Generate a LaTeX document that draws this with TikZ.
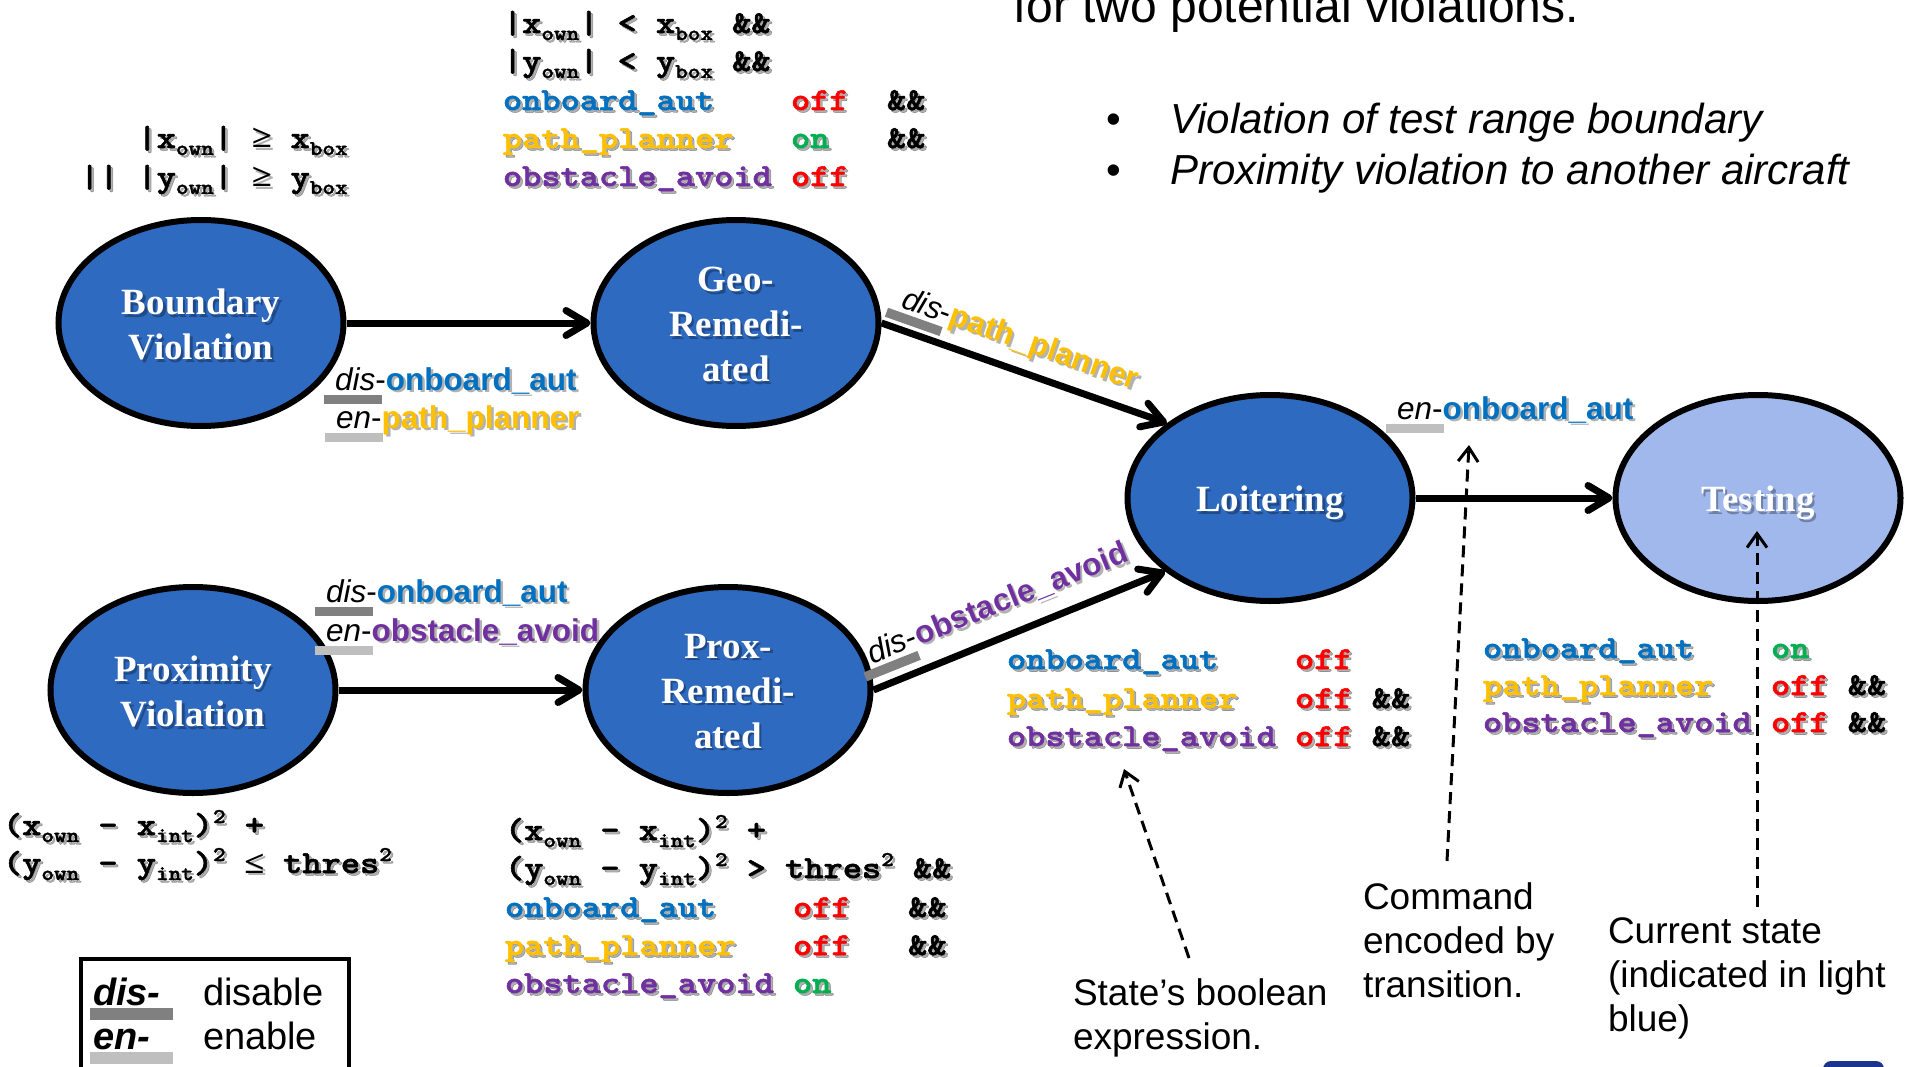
\documentclass[tikz,border=0pt]{standalone}
\usepackage{fontspec}
\setmainfont{Liberation Serif}
\newfontfamily\arial{Liberation Sans}
\newfontfamily\cour{lmmonolt10-bold.otf}[FakeBold=1.6]
\usetikzlibrary{shapes.geometric,arrows.meta}

\definecolor{stateblue}{RGB}{46,106,192}
\definecolor{lightstate}{RGB}{160,184,236}
\definecolor{cblue}{RGB}{0,112,192}
\definecolor{cyel}{RGB}{255,192,0}
\definecolor{cpurp}{RGB}{112,48,160}
\definecolor{cred}{RGB}{255,0,0}
\definecolor{cgreen}{RGB}{0,176,80}
\definecolor{bardark}{RGB}{128,128,128}
\definecolor{barlight}{RGB}{191,191,191}
\definecolor{navy}{RGB}{28,52,140}

% fonts (1pt = 1 pixel of the drawing)
\newcommand\statefont{\rmfamily\bfseries\fontsize{37}{45}\selectfont}
\newcommand\edgefont{\arial\fontsize{31.5}{38}\selectfont}
\newcommand\codefont{\cour\fontsize{32}{38}\selectfont\frenchspacing}
\newcommand\notefont{\arial\fontsize{37}{44}\selectfont}
\newcommand\legendfont{\arial\fontsize{38}{40}\selectfont}

% drop-shadow pass: colours and bars are suppressed
\newif\ifsh
\newcommand\tc[2]{{\ifsh\else\color{#1}\fi#2}}
\newcommand\ebar[2]{\ifsh\phantom{#2}\else\makebox[0pt][l]{\hspace*{-0.35em}\textcolor{#1}{\rule[-0.45em]{1.84em}{0.3em}}}#2\fi}
\newcommand\lbar[2]{\makebox[0pt][l]{\hspace*{-0.08em}\textcolor{#1}{\rule[-0.4em]{2.18em}{0.31em}}}#2}
\newcommand\lowidx[1]{\raisebox{-7pt}{\fontsize{21}{21}\selectfont#1}}
\newcommand\hiidx[1]{\raisebox{12pt}{\fontsize{21}{21}\selectfont#1}}
\newcommand\gap[1]{\hspace*{#1\dimexpr0.525em\relax}}
\newcommand\rel[1]{\makebox[0.525em]{\rmfamily\bfseries#1}}

% text node drawn twice: a soft shadow, then the text itself
\newcommand\shnode[4][]{%
  \node[#1,shadow pass] at ([shift={(2.5,2.5)}]#3) {#4};
  \node[#1] (#2) at (#3) {#4};}

\tikzset{
  state/.style={ellipse, draw=black, line width=6pt, fill=stateblue,
    minimum width=285pt, minimum height=206pt, inner sep=0pt},
  current/.style={state, fill=lightstate},
  statelabel/.style={text=white, align=center, font=\statefont, inner sep=0pt, yshift=-1.5pt},
  code/.style={anchor=base west, inner sep=0pt, outer sep=0pt, font=\codefont, xscale=1.143},
  elabel/.style={anchor=base west, inner sep=0pt, outer sep=0pt, font=\edgefont},
  note/.style={anchor=base west, inner sep=0pt, outer sep=0pt, font=\notefont},
  legendtext/.style={anchor=base west, inner sep=0pt, outer sep=0pt, font=\legendfont},
  shadow pass/.style={text=black, text opacity=0.3, execute at begin node=\shtrue},
  trans/.style={line width=7pt, -{Straight Barb[length=21pt,width=25pt,round]}},
  pointer/.style={line width=3pt, dash pattern=on 12pt off 7pt,
    -{Straight Barb[length=14pt,width=20pt]}},
}

\begin{document}
\begin{tikzpicture}[x=1pt,y=-1pt]
\fill[white] (0,0) rectangle (1905,1067);
\useasboundingbox (0,0) rectangle (1905,1067);

% heading text
\node[anchor=base west, inner sep=0pt, font=\arial\fontsize{48}{56}\selectfont] (title) at (1013,23) {for two potential violations.};
\node[anchor=base west, inner sep=0pt, font=\arial\fontsize{42}{50}\selectfont] (bul1) at (1106,134) {•};
\node[anchor=base west, inner sep=0pt, font=\arial\fontsize{42}{50}\selectfont] (bul2) at (1106,185) {•};
\node[anchor=base west, inner sep=0pt, font=\arial\itshape\fontsize{42}{50}\selectfont] (item1) at (1170,134) {Violation of test range boundary};
\node[anchor=base west, inner sep=0pt, font=\arial\itshape\fontsize{42}{50}\selectfont] (item2) at (1170,185) {Proximity violation to another aircraft};

% states
\node[state] (bv) at (201,323) {};
\node[state] (geo) at (736,323) {};
\node[state] (loit) at (1270,498) {};
\node[current] (test) at (1758,498) {};
\node[state] (pv) at (193,690) {};
\node[state] (pr) at (728,690) {};

\shnode[statelabel]{bvl}{bv}{Boundary\\Violation}
\shnode[statelabel]{geol}{geo}{Geo-\\Remedi-\\ated}
\shnode[statelabel,yshift=-3.5pt]{loitl}{loit}{Loitering}
\shnode[statelabel,yshift=-3.5pt]{testl}{test}{Testing}
\shnode[statelabel]{pvl}{pv}{Proximity\\Violation}
\shnode[statelabel]{prl}{pr}{Prox-\\Remedi-\\ated}

% transitions
\draw[trans] (bv.east) -- (geo.west);
\draw[trans] (geo.east) -- (loit.144);
\draw[trans] (pv.east) -- (pr.west);
\draw[trans] (pr.east) -- (loit.215);
\draw[trans] (loit.east) -- (test.west);

% commands carried by the transitions
\shnode[elabel]{e1a}{335,390}{\ebar{bardark}{\textit{dis}-}\tc{cblue}{\bfseries onboard\_aut}}
\shnode[elabel]{e1b}{336,428}{\ebar{barlight}{\textit{en}-}\tc{cyel}{\bfseries path\_planner}}
\shnode[elabel]{e2a}{326,602}{\ebar{bardark}{\textit{dis}-}\tc{cblue}{\bfseries onboard\_aut}}
\shnode[elabel]{e2b}{326,641}{\ebar{barlight}{\textit{en}-}\tc{cpurp}{\bfseries obstacle\_avoid}}
\shnode[elabel]{e5}{1397,419}{\ebar{barlight}{\textit{en}-}\tc{cblue}{\bfseries onboard\_aut}}
\shnode[elabel,rotate=-19.5]{e3}{900,307}{\ebar{bardark}{\textit{dis}-}\tc{cyel}{\bfseries path\_planner}}
\shnode[elabel,rotate=21.8]{e4}{872,664}{\ebar{bardark}{\textit{dis}-}\tc{cpurp}{\bfseries obstacle\_avoid}}

% boolean expressions of the states
\shnode[code]{b1}{80,148}{\gap{3}|x\lowidx{own}| \rel{≥} x\lowidx{box}}
\shnode[code]{b2}{80,187}{||\gap{1}|y\lowidx{own}| \rel{≥} y\lowidx{box}}

\shnode[code]{g1}{503,33}{|x\lowidx{own}| < x\lowidx{box} \&\&}
\shnode[code]{g2}{503,71}{|y\lowidx{own}| < y\lowidx{box} \&\&}
\shnode[code]{g3}{503,110}{\tc{cblue}{onboard\_aut}\gap{4}\tc{cred}{off}\gap{2}\&\&}
\shnode[code]{g4}{503,148}{\tc{cyel}{path\_planner}\gap{3}\tc{cgreen}{on}\gap{3}\&\&}
\shnode[code]{g5}{503,186}{\tc{cpurp}{obstacle\_avoid}\gap{1}\tc{cred}{off}}

\shnode[code]{p1}{3,835}{(x\lowidx{own} - x\lowidx{int})\hiidx{2} +}
\shnode[code]{p2}{3,873}{(y\lowidx{own} - y\lowidx{int})\hiidx{2} \rel{≤} thres\hiidx{2}}

\shnode[code]{r1}{505,840}{(x\lowidx{own} - x\lowidx{int})\hiidx{2} +}
\shnode[code]{r2}{505,878}{(y\lowidx{own} - y\lowidx{int})\hiidx{2} > thres\hiidx{2} \&\&}
\shnode[code]{r3}{505,917}{\tc{cblue}{onboard\_aut}\gap{4}\tc{cred}{off}\gap{3}\&\&}
\shnode[code]{r4}{505,955}{\tc{cyel}{path\_planner}\gap{3}\tc{cred}{off}\gap{3}\&\&}
\shnode[code]{r5}{505,993}{\tc{cpurp}{obstacle\_avoid}\gap{1}\tc{cgreen}{on}}

\shnode[code]{t1}{1007,669}{\tc{cblue}{onboard\_aut}\gap{4}\tc{cred}{off}}
\shnode[code]{t2}{1007,708}{\tc{cyel}{path\_planner}\gap{3}\tc{cred}{off}\gap{1}\&\&}
\shnode[code]{t3}{1007,746}{\tc{cpurp}{obstacle\_avoid}\gap{1}\tc{cred}{off}\gap{1}\&\&}

\shnode[code]{s1}{1483,658}{\tc{cblue}{onboard\_aut}\gap{4}\tc{cgreen}{on}}
\shnode[code]{s2}{1483,695}{\tc{cyel}{path\_planner}\gap{3}\tc{cred}{off}\gap{1}\&\&}
\shnode[code]{s3}{1483,732}{\tc{cpurp}{obstacle\_avoid}\gap{1}\tc{cred}{off}\gap{1}\&\&}

% explanatory notes
\node[note] (sb1) at (1073,1005) {State’s boolean};
\node[note] (sb2) at (1073,1049) {expression.};
\node[note] (cm1) at (1363,909) {Command};
\node[note] (cm2) at (1363,953) {encoded by};
\node[note] (cm3) at (1363,997) {transition.};
\node[note] (cu1) at (1608,943) {Current state};
\node[note] (cu2) at (1608,987) {(indicated in light};
\node[note] (cu3) at (1608,1031) {blue)};

\coordinate (sbtail) at (1189,958);
\coordinate (sbtip) at (1124,769);
\coordinate (cmtail) at (1447,861);
\coordinate (cmtip) at (1469,445);
\coordinate (cutail) at (1757,907);
\coordinate (cutip) at (1757,531);
\draw[pointer] (sbtail) -- (sbtip);
\draw[pointer] (cmtail) -- (cmtip);
\draw[pointer] (cutail) -- (cutip);

% legend
\node[draw=black, line width=4pt, minimum width=268pt, minimum height=150pt,
      anchor=north west, inner sep=0pt] (legend) at (79,957) {};
\node[legendtext] (ld1) at (93,1005) {\lbar{bardark}{\bfseries\itshape dis-}};
\node[legendtext] (ld2) at (203,1005) {disable};
\node[legendtext] (le1) at (93,1049) {\lbar{barlight}{\bfseries\itshape en-}};
\node[legendtext] (le2) at (203,1049) {enable};

% corner of a logo
\fill[navy, rounded corners=8pt] (1823,1061) rectangle (1884,1095);
\end{tikzpicture}
\end{document}
